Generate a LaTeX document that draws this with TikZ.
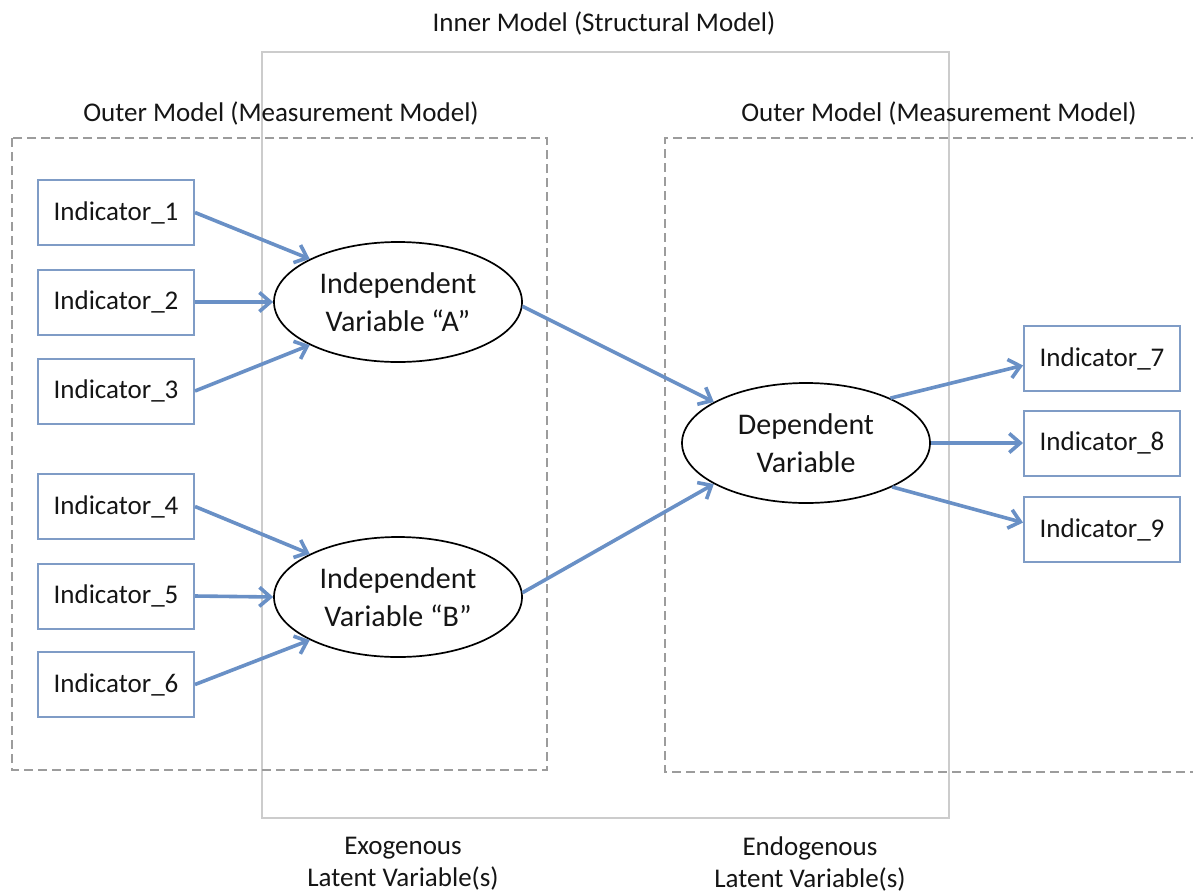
\documentclass[tikz,border=0pt]{standalone}
\usepackage{fontspec}
\setmainfont{Carlito}
\usetikzlibrary{arrows.meta,shapes.geometric}
\definecolor{boxblue}{HTML}{7F9CC6}
\definecolor{arrowblue}{HTML}{6990C6}
\definecolor{dashgrey}{HTML}{9C9C9C}
\definecolor{innergrey}{HTML}{CCCCCC}
\definecolor{txt}{HTML}{151515}
\begin{document}
\begin{tikzpicture}[x=1pt,y=-1pt,
  indbox/.style={draw=boxblue,line width=2pt,fill=white,minimum width=156pt,minimum height=65pt,inner sep=0pt,font=\fontsize{27}{32}\selectfont,text=txt},
  latent/.style={ellipse,draw=black,line width=1.7pt,fill=white,minimum width=248pt,minimum height=120pt,inner sep=0pt,align=center,font=\fontsize{30}{38}\selectfont,text=txt},
  link/.style={draw=arrowblue,line width=3.6pt,-{Straight Barb[length=11pt,width=19pt]}},
  title/.style={font=\fontsize{27}{32}\selectfont,text=txt,align=center,inner sep=0pt},
  outerbox/.style={draw=dashgrey,line width=2.8pt,dash pattern=on 9pt off 5pt},
  innerbox/.style={draw=innergrey,line width=1.6pt}]
\useasboundingbox (0,0) rectangle (1193,892);
\fill[white] (0,0) rectangle (1193,892);

% frames
\draw[innerbox] (262,52) rectangle (949,818);
\draw[outerbox] (12,138) rectangle (547,770);
\draw[outerbox] (1200,138) -- (665,138) -- (665,772) -- (1200,772);

% titles
\node[title] (tinner) at (604,23) {Inner Model (Structural Model)};
\node[title] (touterL) at (281,113) {Outer Model (Measurement Model)};
\node[title] (touterR) at (939,113) {Outer Model (Measurement Model)};
\node[title] (texo) at (403,864) {Exogenous\\Latent Variable(s)};
\node[title] (tendo) at (810,864) {Endogenous\\Latent Variable(s)};

% indicators
\node[indbox] (i1) at (116,212.5) {Indicator\_1};
\node[indbox] (i2) at (116,302) {Indicator\_2};
\node[indbox] (i3) at (116,391) {Indicator\_3};
\node[indbox] (i4) at (116,506.5) {Indicator\_4};
\node[indbox] (i5) at (116,596) {Indicator\_5};
\node[indbox] (i6) at (116,684.5) {Indicator\_6};
\node[indbox] (i7) at (1102,358.5) {Indicator\_7};
\node[indbox] (i8) at (1102,443) {Indicator\_8};
\node[indbox] (i9) at (1102,529.5) {Indicator\_9};

% latent variables
\node[latent] (A) at (398,302) {Independent\\Variable “A”};
\node[latent] (B) at (398,597) {Independent\\Variable “B”};
\node[latent] (D) at (806,443) {Dependent\\Variable};

% connectors
\draw[link] (i1.east) -- (A.154);
\draw[link] (i2.east) -- (A.west);
\draw[link] (i3.east) -- (A.206);
\draw[link] (i4.east) -- (B.154);
\draw[link] (i5.east) -- (B.west);
\draw[link] (i6.east) -- (B.206);
\draw[link] (A.-2) -- (D.156);
\draw[link] (B.2) -- (D.204);
\draw[link] (D.28) -- (i7.185);
\draw[link] (D.east) -- (i8.west);
\draw[link] (D.-27) -- (i9.175);
\end{tikzpicture}
\end{document}
